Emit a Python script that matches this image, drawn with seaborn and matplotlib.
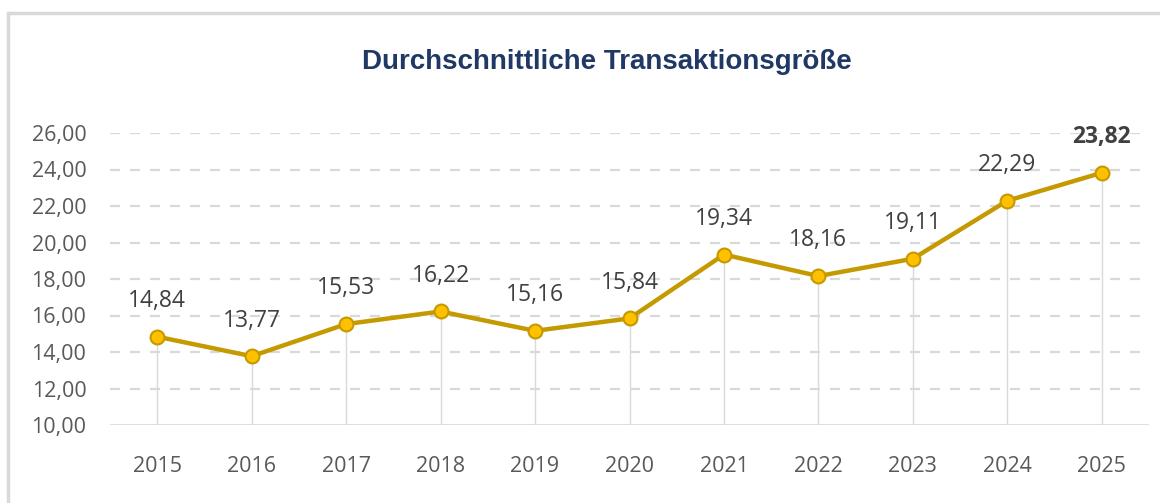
import pandas as pd
import matplotlib.pyplot as plt
import seaborn as sns
from matplotlib.patches import Rectangle

# Chart data
years = ["2015", "2016", "2017", "2018", "2019", "2020", "2021", "2022", "2023", "2024", "2025"]
avg_size = [14.84, 13.77, 15.53, 16.22, 15.16, 15.84, 19.34, 18.16, 19.11, 22.29, 23.82]
y_ticks = [10, 12, 14, 16, 18, 20, 22, 24, 26]

df = pd.DataFrame({"Jahr": years, "Wert": avg_size})
df["pos"] = range(len(df))

sns.set_theme(style="white")
plt.rcParams["font.family"] = ["Open Sans", "DejaVu Sans"]

line_col = "#C49A00"
dot_col = "#FFC000"
grid_col = "#D9D9D9"
text_col = "#404040"

fig = plt.figure(figsize=(11.6, 5.03), dpi=100)
ax = fig.add_axes([110 / 1160, 1 - 425 / 503, 1039 / 1160, (425 - 133) / 503])

# outer chart border (cut off on right and bottom like the source)
fig.patches.append(Rectangle((8 / 1160, -0.05), 1.2, 1 - 13 / 503 + 0.05,
                             transform=fig.transFigure, fill=False,
                             edgecolor="#D9D9D9", linewidth=2.5))

# horizontal dashed grid
for t in y_ticks[1:]:
    ax.axhline(t, color=grid_col, linewidth=1.6, linestyle=(0, (4.5, 4.5)), zorder=0)
ax.axhline(10, color=grid_col, linewidth=1.2, zorder=0)

# drop lines
ax.vlines(df["pos"], 10, df["Wert"], color=grid_col, linewidth=1, zorder=1)

sns.lineplot(data=df, x="pos", y="Wert", ax=ax, color=line_col, linewidth=3.2,
             marker="o", markersize=10, markerfacecolor=dot_col,
             markeredgecolor=line_col, markeredgewidth=1.5, zorder=3)

for i, v in enumerate(avg_size):
    label = f"{v:.2f}".replace(".", ",")
    ax.annotate(label, (i, v), xytext=(0, 17), textcoords="offset points",
                ha="center", va="bottom", fontsize=16.5, color=text_col,
                fontweight="bold" if i == len(avg_size) - 1 else "normal",
                annotation_clip=False)

ax.set_xlim(-0.5, len(years) - 0.5)
ax.set_ylim(10, 26)
ax.set_xticks(df["pos"])
ax.set_xticklabels(years)
ax.set_yticks(y_ticks)
ax.set_yticklabels([f"{t:.2f}".replace(".", ",") for t in y_ticks])
ax.tick_params(axis="both", length=0, labelsize=15.5, labelcolor="#595959")
ax.tick_params(axis="x", pad=22)
ax.tick_params(axis="y", pad=17)
ax.set_xlabel("")
ax.set_ylabel("")
for s in ax.spines.values():
    s.set_visible(False)
ax.set_facecolor("none")

fig.text(607 / 1160, 1 - 62 / 503, "Durchschnittliche Transaktionsgröße",
         ha="center", va="center", fontsize=20, fontweight="bold",
         color="#1F3864", family=["Liberation Sans", "DejaVu Sans"])

fig.savefig("out.png", dpi=100)
